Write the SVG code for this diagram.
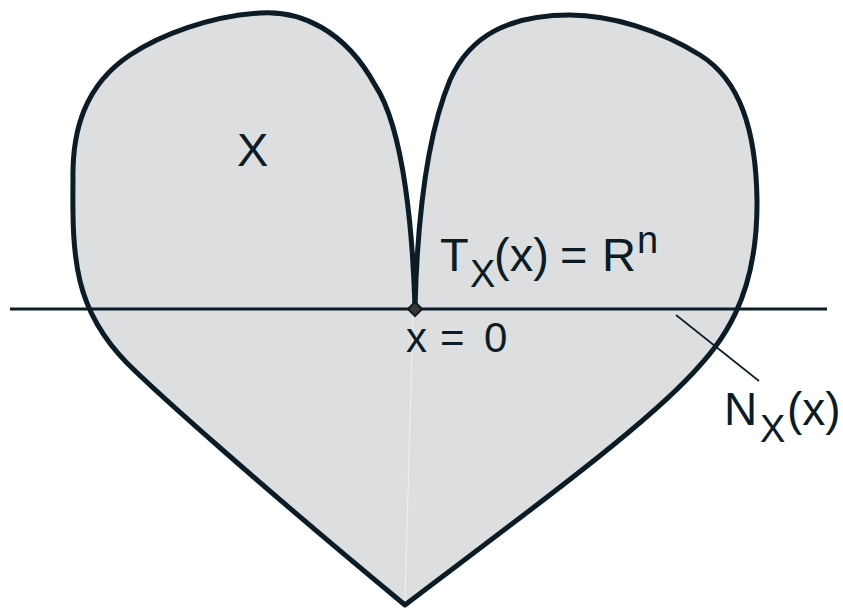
<svg xmlns="http://www.w3.org/2000/svg" width="843" height="611" viewBox="0 0 843 611">
<style>
.t{font-family:"Liberation Sans",Arial,sans-serif;fill:#0b1c26;font-size:47px}
.s{font-size:38px}
</style>
<rect width="843" height="611" fill="#ffffff"/>
<g id="heart">
<path d="M 415 308 C 413 240 405 130 375 85 C 345 30 300 10 260 13 C 210 16 160 35 130 55 C 85 85 72 130 73 180 C 72 260 75 310 127 363 C 157 393 260 485 405 605 C 530 510 640 430 693 373 C 720 344 758 300 757 200 C 756 130 740 80 700 55 C 660 30 610 15 570 15 C 510 15 470 35 450 80 C 425 140 417 230 415 308 Z" fill="#dcdee0" stroke="#0b1c26" stroke-width="5" stroke-linejoin="round"/>
<line x1="413" y1="315" x2="405" y2="600" stroke="#ffffff" stroke-width="1" opacity="0.6"/>
</g>
<g id="connectors">
<line x1="10" y1="309" x2="827" y2="309" stroke="#0b1c26" stroke-width="3"/>
<line x1="676" y1="315" x2="759" y2="381" stroke="#0b1c26" stroke-width="1.6"/>
</g>
<g id="point">
<rect x="410" y="304" width="10" height="10" transform="rotate(45 415 309)" fill="#3b3531" stroke="#0b1c26" stroke-width="2"/>
</g>
<g id="labels">
<text class="t" x="237" y="166">X</text>
<text class="t"><tspan x="440" y="271">T</tspan><tspan class="s" x="470" y="287">X</tspan><tspan x="494" y="271">(x)</tspan><tspan x="560" y="271">=</tspan><tspan x="602" y="271">R</tspan><tspan class="s" x="637" y="253">n</tspan></text>
<text class="t" style="font-size:42px"><tspan x="406" y="352">x</tspan><tspan x="440" y="352">=</tspan><tspan x="484" y="352">0</tspan></text>
<text class="t" style="font-size:46px"><tspan x="724" y="425">N</tspan><tspan class="s" x="760" y="442">X</tspan><tspan x="787" y="425">(x)</tspan></text>
</g>
</svg>
